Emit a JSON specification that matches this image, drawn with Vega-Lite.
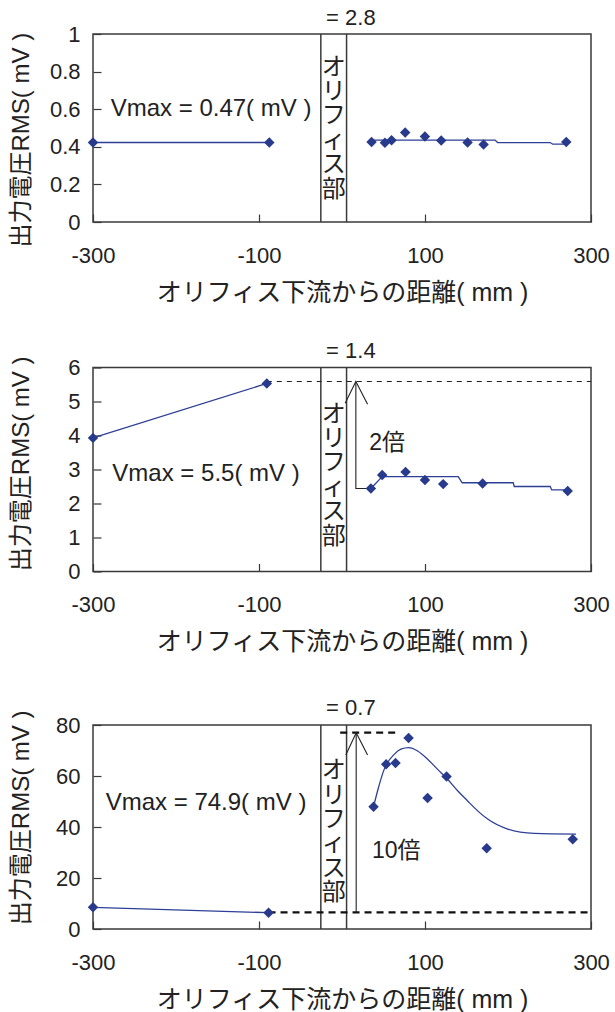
{
  "$schema": "https://vega.github.io/schema/vega-lite/v6.json",
  "padding": {"left": 8, "top": 5, "right": 0, "bottom": 0},
  "config": {
    "font": "Liberation Sans, Noto Sans CJK JP",
    "view": {"stroke": "#3a3a3a", "strokeWidth": 1.5},
    "axis": {
      "domain": false, "grid": false, "tickSize": -8, "tickColor": "#3a3a3a", "tickWidth": 1.2,
      "labelFont": "Liberation Sans", "labelFontSize": 22, "labelColor": "#222",
      "labelFlush": false, "labelOverlap": false, "labelExpr": "'' + datum.value",
      "titleFont": "Liberation Sans, Noto Sans CJK JP", "titleFontWeight": "normal", "titleColor": "#222"
    },
    "axisX": {"labelPadding": 31, "titleY": 70, "titleBaseline": "middle", "titleFontSize": 25},
    "axisY": {"labelPadding": 21, "titleX": -72, "titleBaseline": "middle", "titleFontSize": 24}
  },
  "datasets": {
    "orifice": [{"x": -25.5}, {"x": 5.5}],
    "p1_pts": [
      {"x": -300, "y": 0.423}, {"x": -87.6, "y": 0.423}, {"x": 35.6, "y": 0.425}, {"x": 51.7, "y": 0.421},
      {"x": 59.7, "y": 0.435}, {"x": 76.1, "y": 0.476}, {"x": 99.9, "y": 0.455}, {"x": 119.5, "y": 0.433},
      {"x": 151.3, "y": 0.423}, {"x": 170.6, "y": 0.412}, {"x": 270.2, "y": 0.426}
    ],
    "p1_fit": [
      {"s": "L", "x": -300, "y": 0.423}, {"s": "L", "x": -87.6, "y": 0.423},
      {"s": "R", "x": 35.6, "y": 0.435}, {"s": "R", "x": 184.4, "y": 0.436}, {"s": "R", "x": 187.5, "y": 0.4225},
      {"s": "R", "x": 250.9, "y": 0.4225}, {"s": "R", "x": 253.8, "y": 0.414}, {"s": "R", "x": 270.2, "y": 0.414}
    ],
    "p1_text": [
      {"k": "vmax", "x": -278.7, "y": 0.6, "t": "Vmax = 0.47( mV )"},
      {"k": "top", "x": 10.7, "y": 1.087, "t": "= 2.8"},
      {"k": "ori", "x": -10, "y": 0.885, "t": "オ\nリ\nフ\nィ\nス\n部"}
    ],
    "p2_pts": [
      {"x": -300, "y": 3.93}, {"x": -90.6, "y": 5.53}, {"x": 34.8, "y": 2.44}, {"x": 48.4, "y": 2.84},
      {"x": 76.6, "y": 2.93}, {"x": 99.9, "y": 2.69}, {"x": 121.9, "y": 2.57}, {"x": 169.4, "y": 2.59},
      {"x": 271.9, "y": 2.37}
    ],
    "p2_fit": [
      {"s": "L", "x": -300, "y": 3.93}, {"s": "L", "x": -90.6, "y": 5.53},
      {"s": "R", "x": 34.8, "y": 2.44}, {"s": "R", "x": 48.4, "y": 2.79}, {"s": "R", "x": 140.0, "y": 2.79},
      {"s": "R", "x": 144.8, "y": 2.61}, {"s": "R", "x": 206.3, "y": 2.61}, {"s": "R", "x": 207.5, "y": 2.5},
      {"s": "R", "x": 250.9, "y": 2.5}, {"s": "R", "x": 252.6, "y": 2.4}, {"s": "R", "x": 271.9, "y": 2.4}
    ],
    "p2_dash": [{"x": -90.6, "x2": 300, "y": 5.59}],
    "p2_arrow": [
      {"s": "L", "o": 1, "x": 34.8, "y": 2.44}, {"s": "L", "o": 2, "x": 16.7, "y": 2.44}, {"s": "L", "o": 3, "x": 16.7, "y": 5.59},
      {"s": "H", "o": 1, "x": 3.8, "y": 4.95}, {"s": "H", "o": 2, "x": 16.7, "y": 5.59}, {"s": "H", "o": 3, "x": 30.8, "y": 4.92}
    ],
    "p2_text": [
      {"k": "vmax", "x": -276.7, "y": 2.88, "t": "Vmax = 5.5( mV )"},
      {"k": "top", "x": 10.7, "y": 6.49, "t": "= 1.4"},
      {"k": "ori", "x": -10, "y": 4.97, "t": "オ\nリ\nフ\nィ\nス\n部"},
      {"k": "mult", "x": 32.7, "y": 3.79, "t": "2倍"}
    ],
    "p3_pts": [
      {"x": -300, "y": 8.5}, {"x": -88.5, "y": 6.4}, {"x": 38, "y": 47.9}, {"x": 53.2, "y": 64.6},
      {"x": 64.5, "y": 65.1}, {"x": 80.2, "y": 74.9}, {"x": 103.1, "y": 51.4}, {"x": 126, "y": 59.8},
      {"x": 174.3, "y": 31.7}, {"x": 278, "y": 35.2}
    ],
    "p3_left": [{"x": -300, "y": 8.5}, {"x": -88.5, "y": 6.4}],
    "p3_curve": [
      {"x": 38.0, "y": 47.9}, {"x": 42.9, "y": 54.2}, {"x": 50.8, "y": 62.6}, {"x": 62.9, "y": 68.5},
      {"x": 70.9, "y": 70.5}, {"x": 80.2, "y": 71.1}, {"x": 91.1, "y": 69.8}, {"x": 103.1, "y": 66.6},
      {"x": 115.2, "y": 62.6}, {"x": 127.2, "y": 58.7}, {"x": 139.3, "y": 54.2}, {"x": 151.4, "y": 50.2},
      {"x": 159.3, "y": 47.6}, {"x": 175.5, "y": 43.1}, {"x": 199.6, "y": 39.2}, {"x": 231.7, "y": 37.5},
      {"x": 282, "y": 37.2}
    ],
    "p3_dash": [{"x": -88.5, "x2": 300, "y": 6.5}, {"x": -2.2, "x2": 65, "y": 77}],
    "p3_arrow": [
      {"s": "V", "o": 1, "x": 17.1, "y": 6.5}, {"s": "V", "o": 2, "x": 17.1, "y": 77},
      {"s": "H", "o": 1, "x": 4.6, "y": 68.2}, {"s": "H", "o": 2, "x": 17.1, "y": 77}, {"s": "H", "o": 3, "x": 30.8, "y": 68.2}
    ],
    "p3_text": [
      {"k": "vmax", "x": -284.7, "y": 49.6, "t": "Vmax = 74.9( mV )"},
      {"k": "top", "x": 10.7, "y": 86.5, "t": "= 0.7"},
      {"k": "ori", "x": -10, "y": 66.6, "t": "オ\nリ\nフ\nィ\nス\n部"},
      {"k": "mult", "x": 36, "y": 30.7, "t": "10倍"}
    ]
  },
  "vconcat": [
    {
      "spacing": 32.5,
      "vconcat": [
        {
          "width": 498, "height": 188,
          "encoding": {
            "x": {"field": "x", "type": "quantitative", "scale": {"domain": [-300, 300], "nice": false, "zero": false}, "title": "オリフィス下流からの距離( mm )", "axis": {"values": [-300, -100, 100, 300]}}
          },
          "layer": [
            {
              "data": {"name": "orifice"},
              "mark": {"type": "rule", "color": "#3a3a3a", "strokeWidth": 1.5}
            },
            {
              "data": {"name": "p1_fit"},
              "mark": {"type": "line", "color": "#2e3f96", "strokeWidth": 1.3},
              "encoding": {
                "y": {"field": "y", "type": "quantitative", "scale": {"domain": [0, 1], "nice": false}, "title": "出力電圧RMS( mV )", "axis": {"values": [0, 0.2, 0.4, 0.6, 0.8, 1], "titleY": 105.7}},
                "detail": {"field": "s", "type": "nominal"}
              }
            },
            {
              "data": {"name": "p1_pts"},
              "mark": {"type": "point", "shape": "diamond", "filled": true, "size": 110, "color": "#283a8c", "opacity": 1},
              "encoding": {
                "y": {"field": "y", "type": "quantitative", "scale": {"domain": [0, 1], "nice": false}, "title": "出力電圧RMS( mV )", "axis": {"values": [0, 0.2, 0.4, 0.6, 0.8, 1], "titleY": 105.7}}
              }
            },
            {
              "data": {"name": "p1_text"},
              "transform": [{"filter": "datum.k == 'vmax'"}],
              "mark": {"type": "text", "align": "left", "baseline": "middle", "fontSize": 24, "color": "#222"},
              "encoding": {
                "y": {"field": "y", "type": "quantitative", "scale": {"domain": [0, 1], "nice": false}, "title": "出力電圧RMS( mV )", "axis": {"values": [0, 0.2, 0.4, 0.6, 0.8, 1], "titleY": 105.7}},
                "text": {"field": "t"}
              }
            },
            {
              "data": {"name": "p1_text"},
              "transform": [{"filter": "datum.k == 'top'"}],
              "mark": {"type": "text", "align": "center", "baseline": "middle", "fontSize": 22, "color": "#222"},
              "encoding": {
                "y": {"field": "y", "type": "quantitative", "scale": {"domain": [0, 1], "nice": false}, "title": "出力電圧RMS( mV )", "axis": {"values": [0, 0.2, 0.4, 0.6, 0.8, 1], "titleY": 105.7}},
                "text": {"field": "t"}
              }
            },
            {
              "data": {"name": "p1_text"},
              "transform": [{"filter": "datum.k == 'ori'"}],
              "mark": {"type": "text", "align": "center", "baseline": "top", "fontSize": 24, "lineBreak": "\n", "lineHeight": 24.4, "color": "#222", "font": "Noto Sans CJK JP"},
              "encoding": {
                "y": {"field": "y", "type": "quantitative", "scale": {"domain": [0, 1], "nice": false}, "title": "出力電圧RMS( mV )", "axis": {"values": [0, 0.2, 0.4, 0.6, 0.8, 1], "titleY": 105.7}},
                "text": {"field": "t"}
              }
            }
          ]
        },
        {
          "width": 498, "height": 204,
          "encoding": {
            "x": {"field": "x", "type": "quantitative", "scale": {"domain": [-300, 300], "nice": false, "zero": false}, "title": "オリフィス下流からの距離( mm )", "axis": {"values": [-300, -100, 100, 300]}}
          },
          "layer": [
            {
              "data": {"name": "orifice"},
              "mark": {"type": "rule", "color": "#3a3a3a", "strokeWidth": 1.5}
            },
            {
              "data": {"name": "p2_dash"},
              "mark": {"type": "rule", "color": "#222", "strokeWidth": 1.1, "strokeDash": [5, 5]},
              "encoding": {
                "x2": {"field": "x2"},
                "y": {"field": "y", "type": "quantitative", "scale": {"domain": [0, 6], "nice": false}, "title": "出力電圧RMS( mV )", "axis": {"values": [0, 1, 2, 3, 4, 5, 6], "titleY": 95.8}}
              }
            },
            {
              "data": {"name": "p2_arrow"},
              "mark": {"type": "line", "color": "#222", "strokeWidth": 1.1},
              "encoding": {
                "y": {"field": "y", "type": "quantitative", "scale": {"domain": [0, 6], "nice": false}, "title": "出力電圧RMS( mV )", "axis": {"values": [0, 1, 2, 3, 4, 5, 6], "titleY": 95.8}},
                "detail": {"field": "s", "type": "nominal"},
                "order": {"field": "o", "type": "quantitative"}
              }
            },
            {
              "data": {"name": "p2_fit"},
              "mark": {"type": "line", "color": "#2e3f96", "strokeWidth": 1.3},
              "encoding": {
                "y": {"field": "y", "type": "quantitative", "scale": {"domain": [0, 6], "nice": false}, "title": "出力電圧RMS( mV )", "axis": {"values": [0, 1, 2, 3, 4, 5, 6], "titleY": 95.8}},
                "detail": {"field": "s", "type": "nominal"}
              }
            },
            {
              "data": {"name": "p2_pts"},
              "mark": {"type": "point", "shape": "diamond", "filled": true, "size": 110, "color": "#283a8c", "opacity": 1},
              "encoding": {
                "y": {"field": "y", "type": "quantitative", "scale": {"domain": [0, 6], "nice": false}, "title": "出力電圧RMS( mV )", "axis": {"values": [0, 1, 2, 3, 4, 5, 6], "titleY": 95.8}}
              }
            },
            {
              "data": {"name": "p2_text"},
              "transform": [{"filter": "datum.k == 'vmax'"}],
              "mark": {"type": "text", "align": "left", "baseline": "middle", "fontSize": 24, "color": "#222"},
              "encoding": {
                "y": {"field": "y", "type": "quantitative", "scale": {"domain": [0, 6], "nice": false}, "title": "出力電圧RMS( mV )", "axis": {"values": [0, 1, 2, 3, 4, 5, 6], "titleY": 95.8}},
                "text": {"field": "t"}
              }
            },
            {
              "data": {"name": "p2_text"},
              "transform": [{"filter": "datum.k == 'mult'"}],
              "mark": {"type": "text", "align": "left", "baseline": "middle", "fontSize": 23, "color": "#222"},
              "encoding": {
                "y": {"field": "y", "type": "quantitative", "scale": {"domain": [0, 6], "nice": false}, "title": "出力電圧RMS( mV )", "axis": {"values": [0, 1, 2, 3, 4, 5, 6], "titleY": 95.8}},
                "text": {"field": "t"}
              }
            },
            {
              "data": {"name": "p2_text"},
              "transform": [{"filter": "datum.k == 'top'"}],
              "mark": {"type": "text", "align": "center", "baseline": "middle", "fontSize": 22, "color": "#222"},
              "encoding": {
                "y": {"field": "y", "type": "quantitative", "scale": {"domain": [0, 6], "nice": false}, "title": "出力電圧RMS( mV )", "axis": {"values": [0, 1, 2, 3, 4, 5, 6], "titleY": 95.8}},
                "text": {"field": "t"}
              }
            },
            {
              "data": {"name": "p2_text"},
              "transform": [{"filter": "datum.k == 'ori'"}],
              "mark": {"type": "text", "align": "center", "baseline": "top", "fontSize": 24, "lineBreak": "\n", "lineHeight": 24.4, "color": "#222", "font": "Noto Sans CJK JP"},
              "encoding": {
                "y": {"field": "y", "type": "quantitative", "scale": {"domain": [0, 6], "nice": false}, "title": "出力電圧RMS( mV )", "axis": {"values": [0, 1, 2, 3, 4, 5, 6], "titleY": 95.8}},
                "text": {"field": "t"}
              }
            }
          ]
        }
      ]
    },
    {
      "width": 498, "height": 204,
      "encoding": {
        "x": {"field": "x", "type": "quantitative", "scale": {"domain": [-300, 300], "nice": false, "zero": false}, "title": "オリフィス下流からの距離( mm )", "axis": {"values": [-300, -100, 100, 300]}}
      },
      "layer": [
        {
          "data": {"name": "orifice"},
          "mark": {"type": "rule", "color": "#3a3a3a", "strokeWidth": 1.5}
        },
        {
          "data": {"name": "p3_dash"},
          "mark": {"type": "rule", "color": "#111", "strokeWidth": 2.4, "strokeDash": [7, 5]},
          "encoding": {
            "x2": {"field": "x2"},
            "y": {"field": "y", "type": "quantitative", "scale": {"domain": [0, 80], "nice": false}, "title": "出力電圧RMS( mV )", "axis": {"values": [0, 20, 40, 60, 80], "titleY": 92.3}}
          }
        },
        {
          "data": {"name": "p3_arrow"},
          "mark": {"type": "line", "color": "#222", "strokeWidth": 1.1},
          "encoding": {
            "y": {"field": "y", "type": "quantitative", "scale": {"domain": [0, 80], "nice": false}, "title": "出力電圧RMS( mV )", "axis": {"values": [0, 20, 40, 60, 80], "titleY": 92.3}},
            "detail": {"field": "s", "type": "nominal"},
            "order": {"field": "o", "type": "quantitative"}
          }
        },
        {
          "data": {"name": "p3_left"},
          "mark": {"type": "line", "color": "#2e3f96", "strokeWidth": 1.3},
          "encoding": {
            "y": {"field": "y", "type": "quantitative", "scale": {"domain": [0, 80], "nice": false}, "title": "出力電圧RMS( mV )", "axis": {"values": [0, 20, 40, 60, 80], "titleY": 92.3}}
          }
        },
        {
          "data": {"name": "p3_curve"},
          "mark": {"type": "line", "color": "#2e3f96", "strokeWidth": 1.3, "interpolate": "monotone"},
          "encoding": {
            "y": {"field": "y", "type": "quantitative", "scale": {"domain": [0, 80], "nice": false}, "title": "出力電圧RMS( mV )", "axis": {"values": [0, 20, 40, 60, 80], "titleY": 92.3}}
          }
        },
        {
          "data": {"name": "p3_pts"},
          "mark": {"type": "point", "shape": "diamond", "filled": true, "size": 110, "color": "#283a8c", "opacity": 1},
          "encoding": {
            "y": {"field": "y", "type": "quantitative", "scale": {"domain": [0, 80], "nice": false}, "title": "出力電圧RMS( mV )", "axis": {"values": [0, 20, 40, 60, 80], "titleY": 92.3}}
          }
        },
        {
          "data": {"name": "p3_text"},
          "transform": [{"filter": "datum.k == 'vmax'"}],
          "mark": {"type": "text", "align": "left", "baseline": "middle", "fontSize": 24, "color": "#222"},
          "encoding": {
            "y": {"field": "y", "type": "quantitative", "scale": {"domain": [0, 80], "nice": false}, "title": "出力電圧RMS( mV )", "axis": {"values": [0, 20, 40, 60, 80], "titleY": 92.3}},
            "text": {"field": "t"}
          }
        },
        {
          "data": {"name": "p3_text"},
          "transform": [{"filter": "datum.k == 'mult'"}],
          "mark": {"type": "text", "align": "left", "baseline": "middle", "fontSize": 23, "color": "#222"},
          "encoding": {
            "y": {"field": "y", "type": "quantitative", "scale": {"domain": [0, 80], "nice": false}, "title": "出力電圧RMS( mV )", "axis": {"values": [0, 20, 40, 60, 80], "titleY": 92.3}},
            "text": {"field": "t"}
          }
        },
        {
          "data": {"name": "p3_text"},
          "transform": [{"filter": "datum.k == 'top'"}],
          "mark": {"type": "text", "align": "center", "baseline": "middle", "fontSize": 22, "color": "#222"},
          "encoding": {
            "y": {"field": "y", "type": "quantitative", "scale": {"domain": [0, 80], "nice": false}, "title": "出力電圧RMS( mV )", "axis": {"values": [0, 20, 40, 60, 80], "titleY": 92.3}},
            "text": {"field": "t"}
          }
        },
        {
          "data": {"name": "p3_text"},
          "transform": [{"filter": "datum.k == 'ori'"}],
          "mark": {"type": "text", "align": "center", "baseline": "top", "fontSize": 24, "lineBreak": "\n", "lineHeight": 24.4, "color": "#222", "font": "Noto Sans CJK JP"},
          "encoding": {
            "y": {"field": "y", "type": "quantitative", "scale": {"domain": [0, 80], "nice": false}, "title": "出力電圧RMS( mV )", "axis": {"values": [0, 20, 40, 60, 80], "titleY": 92.3}},
            "text": {"field": "t"}
          }
        }
      ]
    }
  ],
  "spacing": 40
}
